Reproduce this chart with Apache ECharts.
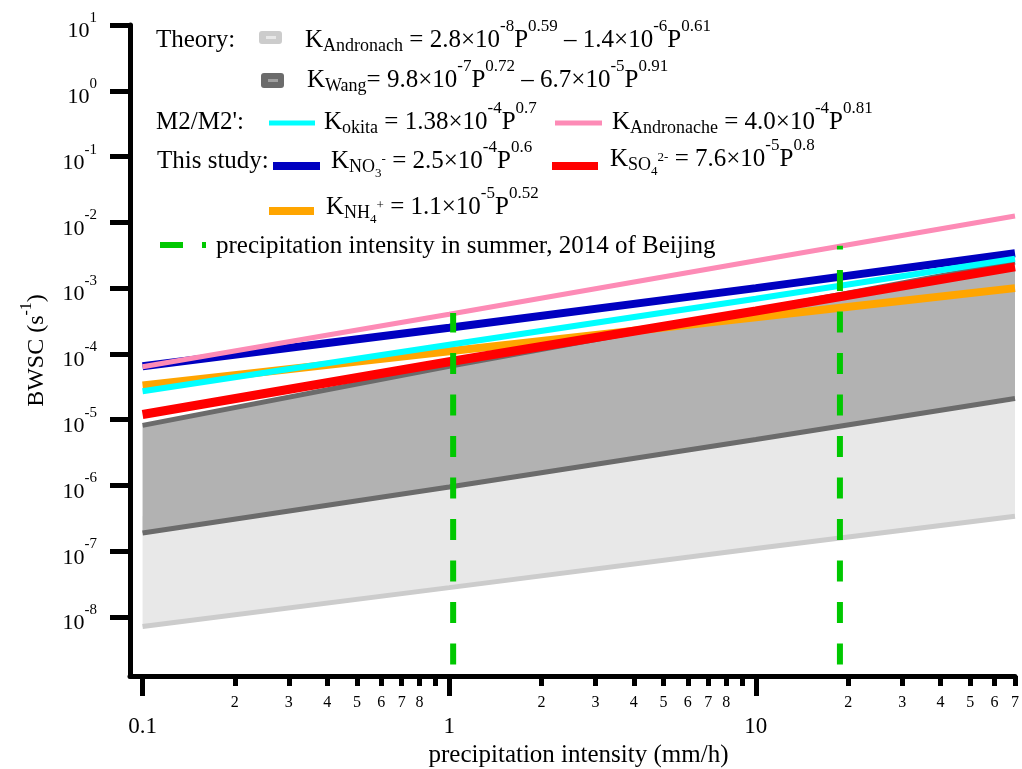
<!DOCTYPE html>
<html><head><meta charset="utf-8">
<script src="https://cdn.jsdelivr.net/npm/echarts@6/dist/echarts.min.js"></script>
<style>html,body{margin:0;padding:0;background:#fff}#c{width:1022px;height:769px}</style>
</head><body><div id="c"></div>
<script>
// ---- data ----
const P = [0.1, 1, 10, 70];                                   // precipitation intensity (mm/h)
const andronachLow  = [7.2e-9, 2.8e-8, 1.1e-7, 3.4e-7];
const andronachHigh = [3.4e-7, 1.4e-6, 5.7e-6, 1.9e-5];
const wangLow       = [1.9e-7, 9.5e-7, 5.0e-6, 2.1e-5];
const wangHigh      = [8.2e-6, 6.5e-5, 4.6e-4, 2.5e-3];
const okita         = [2.7e-5, 1.38e-4, 6.9e-4, 2.8e-3];
const andronache    = [6.4e-5, 4.0e-4, 2.6e-3, 1.25e-2];
const no3           = [6.5e-5, 2.5e-4, 1.0e-3, 3.4e-3];
const so4           = [1.2e-5, 7.6e-5, 4.5e-4, 2.1e-3];
const nh4           = [3.3e-5, 1.1e-4, 3.6e-4, 1.0e-3];
const summerP       = [1.03, 18.8];
const summerTop     = [4.2e-4, 4.4e-3];
const summerBottom  = 1.9e-9;
const xMajorTicks = [0.1, 1, 10];
const xMinorTicks = [0.2,0.3,0.4,0.5,0.6,0.7,0.8,0.9, 2,3,4,5,6,7,8,9, 20,30,40,50,60,70];
const yTicks = [1e-8,1e-7,1e-6,1e-5,1e-4,1e-3,1e-2,1e-1,1,10];

const SERIF = 'Liberation Serif';
const pairs = arr => P.map((p, i) => [p, arr[i]]);

function band(lo, hi, color, z) {
  return {
    type: 'custom', z, silent: true,
    data: P.map((p, i) => [p, lo[i], hi[i]]),
    encode: { x: 0, y: [1, 2] },
    renderItem: (params, api) => {
      if (params.dataIndex !== 0) return null;
      const pts = [];
      for (let i = 0; i < P.length; i++) pts.push(api.coord([P[i], lo[i]]));
      for (let i = P.length - 1; i >= 0; i--) pts.push(api.coord([P[i], hi[i]]));
      return { type: 'polygon', shape: { points: pts }, style: { fill: color } };
    }
  };
}
function curve(arr, color, width, z) {
  return { type: 'line', data: pairs(arr), symbol: 'none', z, silent: true,
           lineStyle: { color, width } };
}
function summerLine(i) {
  return { type: 'line', data: [[summerP[i], summerBottom], [summerP[i], summerTop[i]]],
           symbol: 'none', z: 9, silent: true,
           lineStyle: { color: '#00c800', width: 6, type: [21, 20.5] } };
}

// rich text styles for the legend formulas (vertical shift via padding)
const LR = {
  m:  { fontFamily: SERIF, fontSize: 25, lineHeight: 40, fill: '#000' },
  p:  { fontFamily: SERIF, fontSize: 17, padding: [0, 0, 26, 0], fill: '#000' },
  b:  { fontFamily: SERIF, fontSize: 18, padding: [12, 0, 0, 0], fill: '#000' },
  bb: { fontFamily: SERIF, fontSize: 13, padding: [26, 0, 0, 0], fill: '#000' },
  bp: { fontFamily: SERIF, fontSize: 13, padding: [0, 0, 2, 0], fill: '#000' }
};
function txt(x, y, text) {
  return { type: 'text', x, y, z: 100,
    style: { text, rich: LR, fill: '#000', fontFamily: SERIF, fontSize: 25,
             align: 'left', verticalAlign: 'middle' } };
}
function seg(x1, x2, y, color, w) {
  return { type: 'line', z: 100, shape: { x1, y1: y, x2, y2: y }, style: { stroke: color, lineWidth: w } };
}

const legend = [
  txt(156, 40, '{m|Theory:}'),
  { type: 'rect', z: 100, shape: { x: 259, y: 31, width: 23, height: 13, r: 3 }, style: { fill: '#cccccc' } },
  { type: 'rect', z: 101, shape: { x: 266, y: 36, width: 10, height: 3 }, style: { fill: '#e8e8e8' } },
  txt(305, 40, '{m|K}{b|Andronach}{m| = 2.8×10}{p|-8}{m|P}{p|0.59}{m| – 1.4×10}{p|-6}{m|P}{p|0.61}'),
  { type: 'rect', z: 100, shape: { x: 261, y: 73, width: 23, height: 15, r: 3 }, style: { fill: '#6b6b6b' } },
  { type: 'rect', z: 101, shape: { x: 268, y: 79, width: 10, height: 3 }, style: { fill: '#a0a0a0' } },
  txt(307, 80, '{m|K}{b|Wang}{m|= 9.8×10}{p|-7}{m|P}{p|0.72}{m| – 6.7×10}{p|-5}{m|P}{p|0.91}'),
  txt(156, 122, "{m|M2/M2':}"),
  seg(269, 315, 123, '#00ffff', 5),
  txt(324, 122, '{m|K}{b|okita}{m| = 1.38×10}{p|-4}{m|P}{p|0.7}'),
  seg(555, 602, 123, '#fd8bb6', 5),
  txt(612, 122, '{m|K}{b|Andronache}{m| = 4.0×10}{p|-4}{m|P}{p|0.81}'),
  txt(157, 161, '{m|This study:}'),
  seg(273, 320, 166, '#0000c0', 8),
  txt(331, 161, '{m|K}{b|NO}{bb|3}{bp|-}{m| = 2.5×10}{p|-4}{m|P}{p|0.6}'),
  seg(552, 598, 166, '#ff0000', 8),
  txt(610, 159, '{m|K}{b|SO}{bb|4}{bp|2-}{m| = 7.6×10}{p|-5}{m|P}{p|0.8}'),
  seg(269, 314, 211, '#ffa500', 8),
  txt(326, 207, '{m|K}{b|NH}{bb|4}{bp|+}{m| = 1.1×10}{p|-5}{m|P}{p|0.52}'),
  seg(160, 183, 245, '#00c800', 6),
  seg(202, 206, 245, '#00c800', 6),
  txt(216, 246, '{m|precipitation intensity in summer, 2014 of Beijing}')
];

const xCommon = { type: 'log', min: 0.091, max: 70, position: 'bottom', gridIndex: 0,
                  splitLine: { show: false }, minorTick: { show: false } };

const option = {
  animation: false,
  backgroundColor: '#fff',
  grid: { left: 130, right: 7, top: 25, bottom: 93, containLabel: false, outerBoundsMode: 'none' },
  xAxis: [
    Object.assign({}, xCommon, {
      axisLine: { show: true, lineStyle: { color: '#000', width: 5 } },
      axisTick: { show: true, length: 20, lineStyle: { color: '#000', width: 5 }, customValues: xMajorTicks },
      axisLabel: { show: true, customValues: xMajorTicks, margin: 39, color: '#000',
                   fontFamily: SERIF, fontSize: 23, formatter: v => String(v) },
      name: 'precipitation intensity (mm/h)', nameLocation: 'middle', nameGap: 58,
      nameTextStyle: { fontFamily: SERIF, fontSize: 25, color: '#000', padding: [0, 0, 0, 12] }
    }),
    Object.assign({}, xCommon, {
      axisLine: { show: false },
      axisTick: { show: true, length: 10, lineStyle: { color: '#000', width: 5 }, customValues: xMinorTicks },
      axisLabel: { show: true, customValues: xMinorTicks, margin: 19, color: '#000',
                   fontFamily: SERIF, fontSize: 16,
                   formatter: v => {
                     const d = Math.round(v / Math.pow(10, Math.floor(Math.log10(v) + 1e-9)));
                     return d === 9 ? '' : String(d);
                   } }
    })
  ],
  yAxis: [{
    type: 'log', min: 1.27e-9, max: 10, position: 'left',
    splitLine: { show: false },
    axisLine: { show: true, lineStyle: { color: '#000', width: 5 } },
    axisTick: { show: true, length: 20, lineStyle: { color: '#000', width: 5 }, customValues: yTicks },
    axisLabel: {
      customValues: yTicks, margin: 33, color: '#000',
      formatter: v => '{a|10}{e|' + Math.round(Math.log10(v)) + '}',
      rich: {
        a: { fontFamily: SERIF, fontSize: 22, padding: [13, 0, 0, 0], color: '#000' },
        e: { fontFamily: SERIF, fontSize: 15, padding: [0, 0, 14, 0], color: '#000' }
      }
    },
    name: '{a|BWSC (s}{e|-1}{a|)}', nameLocation: 'middle', nameGap: 75, nameRotate: 90,
    nameTextStyle: {
      rich: {
        a: { fontFamily: SERIF, fontSize: 24, color: '#000' },
        e: { fontFamily: SERIF, fontSize: 16, padding: [0, 0, 20, 0], color: '#000' }
      }
    }
  }],
  graphic: legend,
  series: [
    band(andronachLow, andronachHigh, '#e8e8e8', 1),
    band(wangLow, wangHigh, '#b2b2b2', 2),
    curve(andronachLow, '#cccccc', 5, 3),
    curve(wangLow, '#6b6b6b', 5, 3),
    curve(wangHigh, '#6b6b6b', 5, 3),
    curve(nh4, '#ffa500', 8, 4),
    curve(so4, '#ff0000', 9, 5),
    curve(no3, '#0000c0', 8, 6),
    curve(okita, '#00ffff', 6, 7),
    curve(andronache, '#fd8bb6', 5, 8),
    summerLine(0),
    summerLine(1)
  ]
};
const chart = echarts.init(document.getElementById('c'), null, { renderer: 'canvas' });
chart.setOption(option);
</script>
</body></html>
